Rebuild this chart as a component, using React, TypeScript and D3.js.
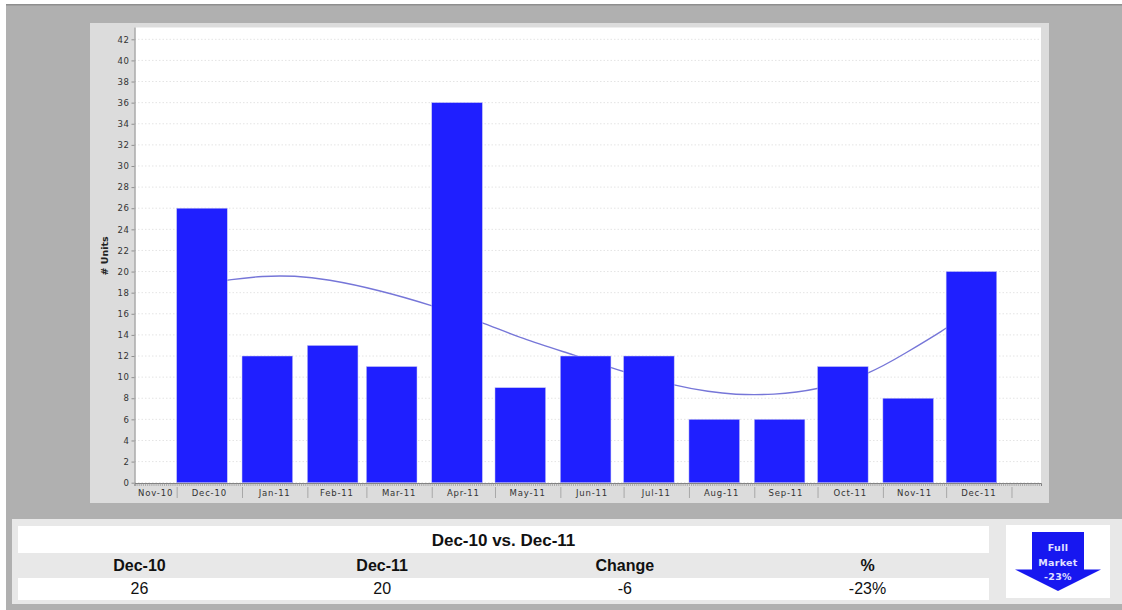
import React, { useEffect, useRef } from "react";
import * as d3 from "d3";

// monthly bars
const barMonths = ["Dec-10", "Jan-11", "Feb-11", "Mar-11", "Apr-11", "May-11", "Jun-11", "Jul-11", "Aug-11", "Sep-11", "Oct-11", "Nov-11", "Dec-11"];
const barUnits = [26, 12, 13, 11, 36, 9, 12, 12, 6, 6, 11, 8, 20];

// axis months, Nov-10 and Jan-12 are cut by the plot edge
const tickMonths = ["Dec-10", "Jan-11", "Feb-11", "Mar-11", "Apr-11", "May-11", "Jun-11", "Jul-11", "Aug-11", "Sep-11", "Oct-11", "Nov-11", "Dec-11", "Jan-12"];
const labelMonths = ["Nov-10", ...barMonths];

// smoothed trend
const trendDates = ["2010-12-20", "2010-12-25", "2011-01-11", "2011-01-26", "2011-02-10", "2011-03-07", "2011-04-01", "2011-04-25", "2011-05-13", "2011-06-09", "2011-06-25", "2011-07-01", "2011-07-25", "2011-08-11", "2011-08-22", "2011-09-10", "2011-10-01", "2011-10-25", "2011-11-12", "2011-12-01", "2011-12-05"];
const trendUnits = [19.0, 19.2, 19.6, 19.6, 19.3, 18.25, 16.8, 15.2, 13.7, 12, 10.9, 10.5, 9.2, 8.6, 8.35, 8.3, 8.8, 10.2, 12.3, 14.6, 15.2];

// table under the chart
const tableTitle = "Dec-10 vs. Dec-11";
const tableHeaders = ["Dec-10", "Dec-11", "Change", "%"];
const tableValues = ["26", "20", "-6", "-23%"];
const arrowLines = ["Full", "Market", "-23%"];

const parseMonth = d3.utcParse("%b-%y");
const parseDay = d3.utcParse("%Y-%m-%d");

const App: React.FC = () => {
  const svgRef = useRef<SVGSVGElement | null>(null);

  useEffect(() => {
    const width = 1122;
    const height = 610;
    const plotLeft = 134.5;
    const plotRight = 1041;
    const plotTop = 27.5;
    const plotBottom = 483;
    const tickFont = "'DejaVu Sans', sans-serif";
    const tableFont = "'Liberation Sans', Arial, sans-serif";

    const svg = d3.select(svgRef.current);
    svg.selectAll("*").remove();
    svg.attr("viewBox", [0, 0, width, height]);

    const x = d3
      .scaleUtc()
      .domain([new Date(Date.UTC(2010, 10, 11)), new Date(Date.UTC(2012, 0, 15))])
      .range([plotLeft, plotRight]);

    const y = d3
      .scaleLinear()
      .domain([0, 42])
      .range([482.7, 39.3]);

    // background panels
    const rect = (rx: number, ry: number, rw: number, rh: number, fill: string) =>
      svg.append("rect").attr("x", rx).attr("y", ry).attr("width", rw).attr("height", rh).attr("fill", fill);

    rect(6, 4, width - 6, height - 4, "#b0b0b0");
    rect(6, 4, width - 6, 1.5, "#8e8e8e");
    rect(90, 23, 959, 480, "#dcdcdc");
    rect(plotLeft, plotTop, plotRight - plotLeft, plotBottom - plotTop, "#ffffff");
    rect(12, 519, width - 12, 85, "#e8e8e8");
    rect(18, 526, 971, 27, "#ffffff");
    rect(18, 578, 971, 22, "#ffffff");
    rect(1006, 525, 104, 73, "#ffffff");

    // gridlines
    const yTicks = d3.range(0, 43, 2);
    svg
      .append("g")
      .selectAll("line")
      .data(yTicks)
      .join("line")
      .attr("x1", plotLeft)
      .attr("x2", plotRight)
      .attr("y1", (d) => y(d))
      .attr("y2", (d) => y(d))
      .attr("stroke", "#e4e4e4")
      .attr("stroke-width", 1)
      .attr("stroke-dasharray", "1.5,2");

    // trend goes behind the bars
    const line = d3
      .line<number>()
      .x((_, i) => x(parseDay(trendDates[i]) as Date))
      .y((d) => y(d))
      .curve(d3.curveBasis);

    svg
      .append("path")
      .attr("d", line(trendUnits))
      .attr("fill", "none")
      .attr("stroke", "#7676d8")
      .attr("stroke-width", 1.4);

    svg
      .append("g")
      .selectAll("rect")
      .data(barUnits)
      .join("rect")
      .attr("x", (_, i) => x(parseMonth(barMonths[i]) as Date))
      .attr("y", (d) => y(d))
      .attr("width", (_, i) => {
        const start = parseMonth(barMonths[i]) as Date;
        return x(d3.utcDay.offset(start, 24)) - x(start);
      })
      .attr("height", (d) => y(0) - y(d))
      .attr("fill", "#1f1fff")
      .attr("stroke", "#c4c4f4")
      .attr("stroke-width", 0.5);

    // y axis
    const gy = svg
      .append("g")
      .attr("transform", `translate(${plotLeft},0)`)
      .call(
        d3
          .axisLeft(y)
          .tickValues(yTicks)
          .tickSize(3)
          .tickPadding(2)
          .tickFormat(d3.format(".0f")),
      );
    gy.select(".domain").attr("d", `M0.5,${plotTop}V${plotBottom}`).attr("stroke", "#808080");
    gy.selectAll("line").attr("stroke", "#909090");
    gy.selectAll("text")
      .style("font-family", tickFont)
      .style("font-size", "8.5px")
      .style("letter-spacing", "0.6px")
      .attr("fill", "#333333");

    svg
      .append("text")
      .attr("transform", "translate(108,256) rotate(-90)")
      .attr("text-anchor", "middle")
      .style("font-family", tickFont)
      .style("font-size", "9.5px")
      .style("font-weight", "bold")
      .attr("fill", "#222222")
      .text("# Units");

    // daily minor ticks along the time axis
    const gDays = svg
      .append("g")
      .attr("transform", `translate(0,${plotBottom})`)
      .call(
        d3
          .axisBottom(x)
          .tickValues(d3.utcDay.range(x.domain()[0], x.domain()[1]))
          .tickSize(3)
          .tickFormat(() => ""),
      );
    gDays.select(".domain").attr("stroke", "#808080");
    gDays.selectAll("line").attr("stroke", "#8c8c8c").attr("stroke-width", 0.6);

    // month ticks
    const gMonths = svg
      .append("g")
      .attr("transform", `translate(0,${plotBottom + 4})`)
      .call(
        d3
          .axisBottom(x)
          .tickValues(tickMonths.map((m) => parseMonth(m) as Date))
          .tickSize(11)
          .tickFormat(() => ""),
      );
    gMonths.select(".domain").remove();
    gMonths.selectAll("line").attr("stroke", "#a8a8a8");

    // month labels sit in the middle of the visible part of the month
    svg
      .append("g")
      .selectAll("text")
      .data(labelMonths)
      .join("text")
      .attr("x", (m) => {
        const start = parseMonth(m) as Date;
        const from = Math.max(x(start), plotLeft);
        return (from + x(d3.utcMonth.offset(start, 1))) / 2;
      })
      .attr("y", 496)
      .attr("text-anchor", "middle")
      .style("font-family", tickFont)
      .style("font-size", "8.5px")
      .style("letter-spacing", "0.8px")
      .attr("fill", "#333333")
      .text((m) => m);

    // table
    svg
      .append("text")
      .attr("x", 503.5)
      .attr("y", 546)
      .attr("text-anchor", "middle")
      .style("font-family", tableFont)
      .style("font-size", "17px")
      .style("font-weight", "bold")
      .attr("fill", "#111111")
      .text(tableTitle);

    const col = d3
      .scalePoint<string>()
      .domain(tableHeaders)
      .range([139.5, 867.5]);

    svg
      .append("g")
      .selectAll("text")
      .data(tableHeaders)
      .join("text")
      .attr("x", (d) => col(d) as number)
      .attr("y", 571)
      .attr("text-anchor", "middle")
      .style("font-family", tableFont)
      .style("font-size", "16px")
      .style("font-weight", "bold")
      .attr("fill", "#111111")
      .text((d) => d);

    svg
      .append("g")
      .selectAll("text")
      .data(tableValues)
      .join("text")
      .attr("x", (_, i) => col(tableHeaders[i]) as number)
      .attr("y", 594)
      .attr("text-anchor", "middle")
      .style("font-family", tableFont)
      .style("font-size", "16px")
      .attr("fill", "#111111")
      .text((d) => d);

    // full market arrow
    const arrow = d3.path();
    arrow.moveTo(1032, 532);
    arrow.lineTo(1084, 532);
    arrow.lineTo(1084, 569.5);
    arrow.lineTo(1101, 569.5);
    arrow.lineTo(1058, 591);
    arrow.lineTo(1015, 569.5);
    arrow.lineTo(1032, 569.5);
    arrow.closePath();
    svg.append("path").attr("d", arrow.toString()).attr("fill", "#1717f0");

    svg
      .append("g")
      .selectAll("text")
      .data(arrowLines)
      .join("text")
      .attr("x", 1058)
      .attr("y", (_, i) => 551 + i * 14.5)
      .attr("text-anchor", "middle")
      .style("font-family", tickFont)
      .style("font-size", "9.5px")
      .style("font-weight", "bold")
      .style("letter-spacing", "0.3px")
      .attr("fill", "#e0e0ff")
      .text((d) => d);
  }, []);

  return (
    <svg
      ref={svgRef}
      width={1122}
      height={610}
      style={{ position: "absolute", left: 0, top: 0, display: "block" }}
    ></svg>
  );
};

export default App;
